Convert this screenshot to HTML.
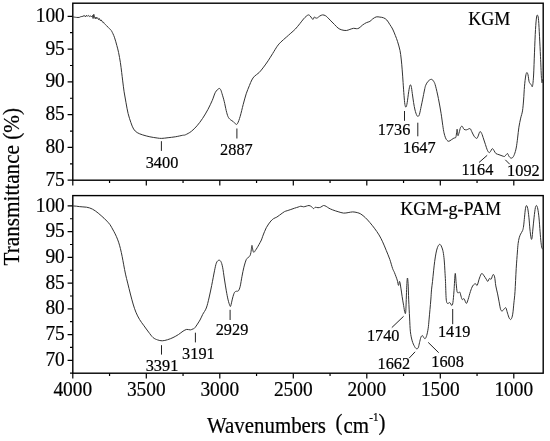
<!DOCTYPE html><html><head><meta charset="utf-8"><style>html,body{margin:0;padding:0;background:#fff;overflow:hidden;width:550px;height:441px;}svg{display:block;will-change:transform;}text{font-family:"Liberation Serif",serif;fill:#000;stroke:#000;stroke-width:0.2px;}</style></head><body>
<svg width="550" height="441" viewBox="0 0 550 441">
<rect width="550" height="441" fill="#fff"/>
<rect x="72.80" y="3.20" width="470.40" height="177.00" fill="none" stroke="#000" stroke-width="1.40"/>
<rect x="72.80" y="195.60" width="470.40" height="177.60" fill="none" stroke="#000" stroke-width="1.40"/>
<path d="M72.80,180.20v5.20M72.80,373.20v5.20M109.55,180.20v2.80M109.55,373.20v2.80M146.30,180.20v5.20M146.30,373.20v5.20M183.05,180.20v2.80M183.05,373.20v2.80M219.80,180.20v5.20M219.80,373.20v5.20M256.55,180.20v2.80M256.55,373.20v2.80M293.30,180.20v5.20M293.30,373.20v5.20M330.05,180.20v2.80M330.05,373.20v2.80M366.80,180.20v5.20M366.80,373.20v5.20M403.55,180.20v2.80M403.55,373.20v2.80M440.30,180.20v5.20M440.30,373.20v5.20M477.05,180.20v2.80M477.05,373.20v2.80M513.80,180.20v5.20M513.80,373.20v5.20M72.80,180.20h-5.20M72.80,163.81h-2.80M72.80,147.42h-5.20M72.80,131.03h-2.80M72.80,114.64h-5.20M72.80,98.26h-2.80M72.80,81.87h-5.20M72.80,65.48h-2.80M72.80,49.09h-5.20M72.80,32.70h-2.80M72.80,16.31h-5.20M72.80,373.20h-2.80M72.80,360.33h-5.20M72.80,347.46h-2.80M72.80,334.59h-5.20M72.80,321.72h-2.80M72.80,308.85h-5.20M72.80,295.98h-2.80M72.80,283.11h-5.20M72.80,270.24h-2.80M72.80,257.37h-5.20M72.80,244.50h-2.80M72.80,231.63h-5.20M72.80,218.77h-2.80M72.80,205.90h-5.20" stroke="#000" stroke-width="1.2" fill="none"/>
<path d="M72.70,16.80 C73.32,16.90 75.30,17.30 76.40,17.40 C77.50,17.50 78.58,17.52 79.30,17.40 C80.02,17.28 80.10,16.88 80.70,16.70 C81.30,16.52 82.28,16.50 82.90,16.30 L84.40,15.50 L85.50,17.00 L86.50,15.20 L87.60,16.30 L88.70,15.50 L89.80,16.60 L90.80,15.90 L91.60,16.60 L92.50,15.50 L93.10,18.50 L93.80,14.30 L94.50,17.40 L95.30,18.80 L96.00,17.00 L96.70,18.50 L97.50,17.70 L98.50,19.60 L99.30,18.50 L100.40,20.70 L101.10,19.90 L102.00,21.10 L102.90,22.50 L103.60,22.30 L104.40,23.60 C104.88,24.17 105.83,25.05 106.50,25.70 C107.17,26.35 107.73,26.83 108.40,27.50 C109.07,28.17 109.95,29.08 110.50,29.70 C111.05,30.32 111.05,29.95 111.70,31.20 C112.35,32.45 113.55,34.83 114.40,37.20 C115.25,39.57 116.10,42.83 116.80,45.40 C117.50,47.97 118.00,49.73 118.60,52.60 C119.20,55.47 119.88,59.27 120.40,62.60 C120.92,65.93 121.32,69.55 121.70,72.60 C122.08,75.65 122.30,77.70 122.70,80.90 C123.10,84.10 123.55,88.17 124.10,91.80 C124.65,95.43 125.33,99.08 126.00,102.70 C126.67,106.32 127.28,110.18 128.10,113.50 C128.92,116.82 129.98,120.02 130.90,122.60 C131.82,125.18 132.55,127.33 133.60,129.00 C134.65,130.67 135.68,131.62 137.20,132.60 C138.72,133.58 140.58,134.20 142.70,134.90 C144.82,135.60 147.48,136.28 149.90,136.80 C152.32,137.32 155.23,137.73 157.20,138.00 C159.17,138.27 159.88,138.45 161.70,138.40 C163.52,138.35 165.83,137.97 168.10,137.70 C170.37,137.43 172.88,137.20 175.30,136.80 C177.72,136.40 180.92,135.63 182.60,135.30 C184.28,134.97 183.95,135.45 185.40,134.80 C186.85,134.15 189.37,132.90 191.30,131.40 C193.23,129.90 195.12,127.97 197.00,125.80 C198.88,123.63 200.77,121.15 202.60,118.40 C204.43,115.65 206.38,112.32 208.00,109.30 C209.62,106.28 211.07,103.13 212.30,100.30 C213.53,97.47 214.30,94.25 215.40,92.30 C216.50,90.35 218.03,89.05 218.90,88.60 C219.77,88.15 220.08,88.77 220.60,89.60 C221.12,90.43 221.40,91.65 222.00,93.60 C222.60,95.55 223.50,98.48 224.20,101.30 C224.90,104.12 225.57,107.95 226.20,110.50 C226.83,113.05 227.32,115.08 228.00,116.60 C228.68,118.12 229.40,118.75 230.30,119.60 C231.20,120.45 232.47,120.93 233.40,121.70 C234.33,122.47 235.20,123.92 235.90,124.20 C236.60,124.48 236.88,124.72 237.60,123.40 C238.32,122.08 239.27,119.45 240.20,116.30 C241.13,113.15 242.20,108.25 243.20,104.50 C244.20,100.75 245.17,96.95 246.20,93.80 C247.23,90.65 248.47,87.90 249.40,85.60 C250.33,83.30 250.95,81.57 251.80,80.00 C252.65,78.43 253.28,77.43 254.50,76.20 C255.72,74.97 257.58,74.12 259.10,72.60 C260.62,71.08 262.10,69.07 263.60,67.10 C265.10,65.13 266.58,63.07 268.10,60.80 C269.62,58.53 271.18,55.92 272.70,53.50 C274.22,51.08 275.85,48.20 277.20,46.30 C278.55,44.40 279.28,43.62 280.80,42.10 C282.32,40.58 284.63,38.68 286.30,37.20 C287.97,35.72 289.28,34.57 290.80,33.20 C292.32,31.83 293.88,30.60 295.40,29.00 C296.92,27.40 298.55,25.27 299.90,23.60 C301.25,21.93 302.45,20.22 303.50,19.00 C304.55,17.78 305.38,16.98 306.20,16.30 C307.02,15.62 307.73,14.95 308.40,14.90 C309.07,14.85 309.65,15.47 310.20,16.00 C310.75,16.53 311.22,17.53 311.70,18.10 C312.18,18.67 312.65,19.60 313.10,19.40 C313.55,19.20 313.97,17.12 314.40,16.90 C314.83,16.68 315.18,17.95 315.70,18.10 C316.22,18.25 316.82,18.15 317.50,17.80 C318.18,17.45 318.95,16.48 319.80,16.00 C320.65,15.52 321.68,14.97 322.60,14.90 C323.52,14.83 324.52,15.22 325.30,15.60 C326.08,15.98 326.37,16.32 327.30,17.20 C328.23,18.08 329.70,19.68 330.90,20.90 C332.10,22.12 333.30,23.30 334.50,24.50 C335.70,25.70 336.88,27.20 338.10,28.10 C339.32,29.00 340.43,29.50 341.80,29.90 C343.17,30.30 344.95,30.58 346.30,30.50 C347.65,30.42 348.68,29.77 349.90,29.40 C351.12,29.03 352.53,28.42 353.60,28.30 C354.67,28.18 355.40,28.73 356.30,28.70 C357.20,28.67 357.95,28.72 359.00,28.10 C360.05,27.48 361.38,25.90 362.60,25.00 C363.82,24.10 365.08,23.30 366.30,22.70 C367.52,22.10 368.85,22.02 369.90,21.40 C370.95,20.78 371.55,19.75 372.60,19.00 C373.65,18.25 374.98,17.22 376.20,16.90 C377.42,16.58 378.68,16.95 379.90,17.10 C381.12,17.25 382.35,17.32 383.50,17.80 C384.65,18.28 385.75,18.88 386.80,20.00 C387.85,21.12 388.83,23.00 389.80,24.50 C390.77,26.00 391.68,27.18 392.60,29.00 C393.52,30.82 394.47,33.28 395.30,35.40 C396.13,37.52 396.82,39.18 397.60,41.70 C398.38,44.22 399.40,47.62 400.00,50.50 C400.60,53.38 400.83,55.77 401.20,59.00 C401.57,62.23 401.88,65.97 402.20,69.90 C402.52,73.83 402.80,78.37 403.10,82.60 C403.40,86.83 403.70,91.67 404.00,95.30 C404.30,98.93 404.57,102.43 404.90,104.40 C405.23,106.37 405.62,107.40 406.00,107.10 C406.38,106.80 406.75,105.17 407.20,102.60 C407.65,100.03 408.23,94.58 408.70,91.70 C409.17,88.82 409.58,86.22 410.00,85.30 C410.42,84.38 410.82,84.83 411.20,86.20 C411.58,87.57 411.90,90.77 412.30,93.50 C412.70,96.23 413.15,99.85 413.60,102.60 C414.05,105.35 414.47,107.87 415.00,110.00 C415.53,112.13 416.28,114.35 416.80,115.40 C417.32,116.45 417.67,116.45 418.10,116.30 C418.53,116.15 418.88,116.17 419.40,114.50 C419.92,112.83 420.65,108.87 421.20,106.30 C421.75,103.73 422.15,101.82 422.70,99.10 C423.25,96.38 424.00,92.30 424.50,90.00 C425.00,87.70 425.10,86.75 425.70,85.30 C426.30,83.85 427.15,82.30 428.10,81.30 C429.05,80.30 430.43,79.23 431.40,79.30 C432.37,79.37 433.20,80.55 433.90,81.70 C434.60,82.85 434.85,83.40 435.60,86.20 C436.35,89.00 437.48,93.95 438.40,98.50 C439.32,103.05 440.37,108.98 441.10,113.50 C441.83,118.02 442.32,122.38 442.80,125.60 C443.28,128.82 443.55,130.77 444.00,132.80 C444.45,134.83 445.00,136.55 445.50,137.80 C446.00,139.05 446.45,139.72 447.00,140.30 C447.55,140.88 448.08,141.38 448.80,141.30 C449.52,141.22 450.45,140.33 451.30,139.80 C452.15,139.27 453.13,138.55 453.90,138.10 C454.67,137.65 455.37,138.58 455.90,137.10 C456.43,135.62 456.77,129.45 457.10,129.20 C457.43,128.95 457.58,134.97 457.90,135.60 C458.22,136.23 458.55,134.37 459.00,133.00 C459.45,131.63 460.05,128.50 460.60,127.40 C461.15,126.30 461.73,126.08 462.30,126.40 C462.87,126.72 463.28,128.73 464.00,129.30 C464.72,129.87 465.60,129.92 466.60,129.80 C467.60,129.68 469.13,128.28 470.00,128.60 C470.87,128.92 471.12,130.43 471.80,131.70 C472.48,132.97 473.28,135.08 474.10,136.20 C474.92,137.32 476.03,138.40 476.70,138.40 C477.37,138.40 477.57,137.32 478.10,136.20 C478.63,135.08 479.30,132.15 479.90,131.70 C480.50,131.25 481.08,132.28 481.70,133.50 C482.32,134.72 482.98,137.18 483.60,139.00 C484.22,140.82 484.80,142.60 485.40,144.40 C486.00,146.20 486.60,148.43 487.20,149.80 C487.80,151.17 488.47,152.30 489.00,152.60 C489.53,152.90 489.85,152.27 490.40,151.60 C490.95,150.93 491.68,148.75 492.30,148.60 C492.92,148.45 493.50,149.88 494.10,150.70 C494.70,151.52 495.08,152.83 495.90,153.50 C496.72,154.17 497.98,154.32 499.00,154.70 C500.02,155.08 501.10,155.50 502.00,155.80 C502.90,156.10 503.78,156.58 504.40,156.50 C505.02,156.42 505.18,155.80 505.70,155.30 C506.22,154.80 506.97,153.35 507.50,153.50 C508.03,153.65 508.37,155.45 508.90,156.20 C509.43,156.95 510.08,157.77 510.70,158.00 C511.32,158.23 511.98,158.20 512.60,157.60 C513.22,157.00 513.80,156.00 514.40,154.40 C515.00,152.80 515.67,150.72 516.20,148.00 C516.73,145.28 517.15,141.57 517.60,138.10 C518.05,134.63 518.38,130.53 518.90,127.20 C519.42,123.87 520.10,120.82 520.70,118.10 C521.30,115.38 522.02,113.92 522.50,110.90 C522.98,107.88 523.27,104.12 523.60,100.00 C523.93,95.88 524.15,90.20 524.50,86.20 C524.85,82.20 525.32,78.27 525.70,76.00 C526.08,73.73 526.42,72.80 526.80,72.60 C527.18,72.40 527.62,73.30 528.00,74.80 C528.38,76.30 528.68,80.08 529.10,81.60 C529.52,83.12 530.12,83.33 530.50,83.90 C530.88,84.47 531.07,84.62 531.40,85.00 C531.73,85.38 532.13,87.87 532.50,86.20 C532.87,84.53 533.27,80.67 533.60,75.00 C533.93,69.33 534.18,59.78 534.50,52.20 C534.82,44.62 535.15,35.37 535.50,29.50 C535.85,23.63 536.23,19.35 536.60,17.00 C536.97,14.65 537.37,14.83 537.70,15.40 C538.03,15.97 538.30,16.92 538.60,20.40 C538.90,23.88 539.18,30.25 539.50,36.30 C539.82,42.35 540.18,49.90 540.50,56.70 C540.82,63.50 541.15,72.75 541.40,77.10 C541.65,81.45 541.78,82.42 542.00,82.80 C542.22,83.18 542.48,80.03 542.70,79.40 C542.92,78.77 543.20,79.07 543.30,79.00" stroke="#333" stroke-width="1.0" fill="none" stroke-linejoin="round"/>
<path d="M72.70,206.00 C72.88,206.00 73.18,205.97 73.80,206.00 C74.42,206.03 75.48,206.10 76.40,206.20 C77.32,206.30 78.22,206.48 79.30,206.60 C80.38,206.72 81.70,206.80 82.90,206.90 C84.10,207.00 85.40,207.03 86.50,207.20 C87.60,207.37 88.52,207.58 89.50,207.90 C90.48,208.22 91.43,208.60 92.40,209.10 C93.37,209.60 94.33,210.23 95.30,210.90 C96.27,211.57 97.23,212.32 98.20,213.10 C99.17,213.88 100.13,214.75 101.10,215.60 C102.07,216.45 103.03,217.28 104.00,218.20 C104.97,219.12 105.93,220.07 106.90,221.10 C107.87,222.13 108.98,223.30 109.80,224.40 C110.62,225.50 111.10,226.48 111.80,227.70 C112.50,228.92 113.25,230.27 114.00,231.70 C114.75,233.13 115.53,234.55 116.30,236.30 C117.07,238.05 117.92,240.17 118.60,242.20 C119.28,244.23 119.80,246.08 120.40,248.50 C121.00,250.92 121.65,253.98 122.20,256.70 C122.75,259.42 123.15,261.90 123.70,264.80 C124.25,267.70 124.83,271.05 125.50,274.10 C126.17,277.15 126.88,279.78 127.70,283.10 C128.52,286.42 129.50,290.52 130.40,294.00 C131.30,297.48 132.18,300.97 133.10,304.00 C134.02,307.03 134.83,309.63 135.90,312.20 C136.97,314.77 138.15,317.13 139.50,319.40 C140.85,321.67 142.48,323.68 144.00,325.80 C145.52,327.92 147.08,330.13 148.60,332.10 C150.12,334.07 151.60,336.30 153.10,337.60 C154.60,338.90 156.08,339.37 157.60,339.90 C159.12,340.43 160.53,340.83 162.20,340.80 C163.87,340.77 165.80,340.23 167.60,339.70 C169.40,339.17 171.18,338.47 173.00,337.60 C174.82,336.73 176.83,335.57 178.50,334.50 C180.17,333.43 181.63,332.05 183.00,331.20 C184.37,330.35 185.48,329.62 186.70,329.40 C187.92,329.18 189.25,329.98 190.30,329.90 C191.35,329.82 192.22,329.28 193.00,328.90 C193.78,328.52 193.83,329.08 195.00,327.60 C196.17,326.12 198.72,322.20 200.00,320.00 C201.28,317.80 201.65,316.40 202.70,314.40 C203.75,312.40 205.25,310.73 206.30,308.00 C207.35,305.27 208.10,301.77 209.00,298.00 C209.90,294.23 210.78,289.93 211.70,285.40 C212.62,280.87 213.73,274.50 214.50,270.80 C215.27,267.10 215.63,264.95 216.30,263.20 C216.97,261.45 217.75,260.60 218.50,260.30 C219.25,260.00 220.12,260.25 220.80,261.40 C221.48,262.55 222.00,264.27 222.60,267.20 C223.20,270.13 223.78,275.07 224.40,279.00 C225.02,282.93 225.68,287.32 226.30,290.80 C226.92,294.28 227.50,297.42 228.10,299.90 C228.70,302.38 229.45,304.73 229.90,305.70 C230.35,306.67 230.35,306.98 230.80,305.70 C231.25,304.42 232.00,300.18 232.60,298.00 C233.20,295.82 233.80,293.72 234.40,292.60 C235.00,291.48 235.53,291.60 236.20,291.30 C236.87,291.00 237.73,291.63 238.40,290.80 C239.07,289.97 239.60,288.72 240.20,286.30 C240.80,283.88 241.38,279.48 242.00,276.30 C242.62,273.12 243.18,270.00 243.90,267.20 C244.62,264.40 245.58,261.10 246.30,259.50 C247.02,257.90 247.58,258.25 248.20,257.60 C248.82,256.95 249.55,256.45 250.00,255.60 C250.45,254.75 250.63,253.90 250.90,252.50 C251.17,251.10 251.42,248.38 251.60,247.20 C251.78,246.02 251.85,245.25 252.00,245.40 C252.15,245.55 252.30,247.08 252.50,248.10 C252.70,249.12 252.93,250.82 253.20,251.50 C253.47,252.18 253.73,252.38 254.10,252.20 C254.47,252.02 254.88,251.15 255.40,250.40 C255.92,249.65 256.60,248.68 257.20,247.70 C257.80,246.72 258.30,245.78 259.00,244.50 C259.70,243.22 260.78,241.37 261.40,240.00 C262.02,238.63 262.18,237.68 262.70,236.30 C263.22,234.92 263.90,233.13 264.50,231.70 C265.10,230.27 265.62,228.98 266.30,227.70 C266.98,226.42 267.83,225.12 268.60,224.00 C269.37,222.88 270.07,221.90 270.90,221.00 C271.73,220.10 272.62,219.25 273.60,218.60 C274.58,217.95 275.82,217.67 276.80,217.10 C277.78,216.53 278.60,215.85 279.50,215.20 C280.40,214.55 281.37,213.80 282.20,213.20 C283.03,212.60 283.67,212.02 284.50,211.60 C285.33,211.18 286.15,211.05 287.20,210.70 C288.25,210.35 289.58,209.92 290.80,209.50 C292.02,209.08 293.28,208.60 294.50,208.20 C295.72,207.80 297.05,207.43 298.10,207.10 C299.15,206.77 299.90,206.25 300.80,206.20 C301.70,206.15 302.60,206.80 303.50,206.80 C304.40,206.80 305.28,206.42 306.20,206.20 C307.12,205.98 308.08,205.40 309.00,205.50 C309.92,205.60 310.95,206.28 311.70,206.80 C312.45,207.32 312.90,208.52 313.50,208.60 C314.10,208.68 314.55,207.45 315.30,207.30 C316.05,207.15 317.10,207.72 318.00,207.70 C318.90,207.68 319.78,207.57 320.70,207.20 C321.62,206.83 322.58,205.63 323.50,205.50 C324.42,205.37 325.30,205.95 326.20,206.40 C327.10,206.85 327.82,207.62 328.90,208.20 C329.98,208.78 331.17,209.32 332.70,209.90 C334.23,210.48 336.28,211.17 338.10,211.70 C339.92,212.23 341.93,212.95 343.60,213.10 C345.27,213.25 346.58,212.80 348.10,212.60 C349.62,212.40 351.18,211.90 352.70,211.90 C354.22,211.90 355.85,212.25 357.20,212.60 C358.55,212.95 359.43,213.15 360.80,214.00 C362.17,214.85 363.88,216.27 365.40,217.70 C366.92,219.13 368.40,220.85 369.90,222.60 C371.40,224.35 372.88,226.15 374.40,228.20 C375.92,230.25 377.63,232.63 379.00,234.90 C380.37,237.17 381.40,239.23 382.60,241.80 C383.80,244.37 385.00,247.37 386.20,250.30 C387.40,253.23 388.73,256.37 389.80,259.40 C390.87,262.43 391.82,266.28 392.60,268.50 C393.38,270.72 393.73,270.78 394.50,272.70 C395.27,274.62 396.53,277.88 397.20,280.00 C397.87,282.12 398.10,285.17 398.50,285.40 C398.90,285.63 399.20,280.95 399.60,281.40 C400.00,281.85 400.48,285.62 400.90,288.10 C401.32,290.58 401.65,293.42 402.10,296.30 C402.55,299.18 403.13,302.68 403.60,305.40 C404.07,308.12 404.53,311.70 404.90,312.60 C405.27,313.50 405.50,315.03 405.80,310.80 C406.10,306.57 406.43,292.65 406.70,287.20 C406.97,281.75 407.17,278.70 407.40,278.10 C407.63,277.50 407.88,279.97 408.10,283.60 C408.32,287.23 408.45,294.17 408.70,299.90 C408.95,305.63 409.32,312.68 409.60,318.00 C409.88,323.32 409.97,327.98 410.40,331.80 C410.83,335.62 411.52,338.47 412.20,340.90 C412.88,343.33 413.80,345.10 414.50,346.40 C415.20,347.70 415.78,348.47 416.40,348.70 C417.02,348.93 417.68,348.80 418.20,347.80 C418.72,346.80 419.05,344.45 419.50,342.70 C419.95,340.95 420.42,338.50 420.90,337.30 C421.38,336.10 421.95,335.50 422.40,335.50 C422.85,335.50 423.15,336.77 423.60,337.30 C424.05,337.83 424.58,339.00 425.10,338.70 C425.62,338.40 426.18,337.25 426.70,335.50 C427.22,333.75 427.80,330.93 428.20,328.20 C428.60,325.47 428.67,323.80 429.10,319.10 C429.53,314.40 430.40,304.87 430.80,300.00 C431.20,295.13 431.22,292.97 431.50,289.90 C431.78,286.83 432.15,284.78 432.50,281.60 C432.85,278.42 433.23,274.18 433.60,270.80 C433.97,267.42 434.30,264.25 434.70,261.30 C435.10,258.35 435.55,255.37 436.00,253.10 C436.45,250.83 436.90,249.10 437.40,247.70 C437.90,246.30 438.50,245.20 439.00,244.70 C439.50,244.20 439.95,244.32 440.40,244.70 C440.85,245.08 441.25,245.83 441.70,247.00 C442.15,248.17 442.68,249.55 443.10,251.70 C443.52,253.85 443.90,256.72 444.20,259.90 C444.50,263.08 444.68,267.18 444.90,270.80 C445.12,274.42 445.28,276.90 445.50,281.60 C445.72,286.30 445.87,295.35 446.20,299.00 C446.53,302.65 446.90,302.90 447.50,303.50 C448.10,304.10 449.10,302.28 449.80,302.60 C450.50,302.92 451.18,305.40 451.70,305.40 C452.22,305.40 452.52,305.03 452.90,302.60 C453.28,300.17 453.62,295.65 454.00,290.80 C454.38,285.95 454.83,274.70 455.20,273.50 C455.57,272.30 455.88,280.57 456.20,283.60 C456.52,286.63 456.73,290.18 457.10,291.70 C457.47,293.22 457.92,292.60 458.40,292.70 C458.88,292.80 459.62,291.92 460.00,292.30 C460.38,292.68 460.33,293.80 460.70,295.00 C461.07,296.20 461.63,298.87 462.20,299.50 C462.77,300.13 463.42,298.15 464.10,298.80 C464.78,299.45 465.63,303.28 466.30,303.40 C466.97,303.52 467.42,301.47 468.10,299.50 C468.78,297.53 469.63,293.87 470.40,291.60 C471.17,289.33 471.87,287.22 472.70,285.90 C473.53,284.58 474.65,283.80 475.40,283.70 C476.15,283.60 476.52,286.25 477.20,285.30 C477.88,284.35 478.75,279.97 479.50,278.00 C480.25,276.03 480.95,273.87 481.70,273.50 C482.45,273.13 483.25,274.87 484.00,275.80 C484.75,276.73 485.57,278.17 486.20,279.10 C486.83,280.03 487.27,281.50 487.80,281.40 C488.33,281.30 488.83,278.88 489.40,278.50 C489.97,278.12 490.60,279.75 491.20,279.10 C491.80,278.45 492.43,274.97 493.00,274.60 C493.57,274.23 494.13,275.02 494.60,276.90 C495.07,278.78 495.30,283.07 495.80,285.90 C496.30,288.73 497.05,291.25 497.60,293.90 C498.15,296.55 498.58,299.17 499.10,301.80 C499.62,304.43 500.13,308.20 500.70,309.70 C501.27,311.20 501.88,310.98 502.50,310.80 C503.12,310.62 503.83,309.08 504.40,308.60 C504.97,308.12 505.38,307.15 505.90,307.90 C506.42,308.65 506.93,311.37 507.50,313.10 C508.07,314.83 508.70,317.28 509.30,318.30 C509.90,319.32 510.53,319.88 511.10,319.20 C511.67,318.52 512.23,316.92 512.70,314.20 C513.17,311.48 513.52,306.67 513.90,302.90 C514.28,299.13 514.62,297.30 515.00,291.60 C515.38,285.90 515.80,275.30 516.20,268.70 C516.60,262.10 517.08,256.17 517.40,252.00 C517.72,247.83 517.80,246.07 518.10,243.70 C518.40,241.33 518.78,239.40 519.20,237.80 C519.62,236.20 520.03,235.32 520.60,234.10 C521.17,232.88 522.10,231.85 522.60,230.50 C523.10,229.15 523.28,228.22 523.60,226.00 C523.92,223.78 524.18,220.15 524.50,217.20 C524.82,214.25 525.17,210.23 525.50,208.30 C525.83,206.37 526.13,205.60 526.50,205.60 C526.87,205.60 527.30,206.37 527.70,208.30 C528.10,210.23 528.53,213.75 528.90,217.20 C529.27,220.65 529.55,225.57 529.90,229.00 C530.25,232.43 530.67,236.20 531.00,237.80 C531.33,239.40 531.58,240.07 531.90,238.60 C532.22,237.13 532.53,232.57 532.90,229.00 C533.27,225.43 533.68,220.77 534.10,217.20 C534.52,213.63 534.98,209.53 535.40,207.60 C535.82,205.67 536.20,205.37 536.60,205.60 C537.00,205.83 537.40,206.95 537.80,209.00 C538.20,211.05 538.62,214.08 539.00,217.90 C539.38,221.72 539.77,227.83 540.10,231.90 C540.43,235.97 540.70,239.63 541.00,242.30 C541.30,244.97 541.60,246.80 541.90,247.90 C542.20,249.00 542.57,248.80 542.80,248.90 C543.03,249.00 543.22,248.57 543.30,248.50" stroke="#333" stroke-width="1.0" fill="none" stroke-linejoin="round"/>
<path d="M161.4,141.2L161.4,150.9M236.9,128.5L236.9,138.5M404.5,111.0L404.5,120.8M417.8,122.7L417.8,136.3M479.0,162.5L487.2,155.3M505.3,159.8L509.8,164.3M161.5,345.2L161.5,354.6M195.4,332.7L195.4,342.4M230.1,309.8L230.1,320.0M391.8,327.6L403.6,316.3M409.1,358.2L415.1,351.8M428.2,342.4L438.7,352.7M452.7,309.0L452.7,324.2" stroke="#222" stroke-width="1.0" fill="none"/>
<text id="yt75" transform="translate(64.80,185.80) scale(1.000,1.040)" font-size="19.40" text-anchor="end">75</text>
<text id="yt80" transform="translate(64.80,153.02) scale(1.000,1.040)" font-size="19.40" text-anchor="end">80</text>
<text id="yt85" transform="translate(64.80,120.24) scale(1.000,1.040)" font-size="19.40" text-anchor="end">85</text>
<text id="yt90" transform="translate(64.80,87.47) scale(1.000,1.040)" font-size="19.40" text-anchor="end">90</text>
<text id="yt95" transform="translate(64.80,54.69) scale(1.000,1.040)" font-size="19.40" text-anchor="end">95</text>
<text id="yt100" transform="translate(64.80,21.91) scale(1.000,1.040)" font-size="19.40" text-anchor="end">100</text>
<text id="yb70" transform="translate(64.80,365.93) scale(1.000,1.040)" font-size="19.40" text-anchor="end">70</text>
<text id="yb75" transform="translate(64.80,340.19) scale(1.000,1.040)" font-size="19.40" text-anchor="end">75</text>
<text id="yb80" transform="translate(64.80,314.45) scale(1.000,1.040)" font-size="19.40" text-anchor="end">80</text>
<text id="yb85" transform="translate(64.80,288.71) scale(1.000,1.040)" font-size="19.40" text-anchor="end">85</text>
<text id="yb90" transform="translate(64.80,262.97) scale(1.000,1.040)" font-size="19.40" text-anchor="end">90</text>
<text id="yb95" transform="translate(64.80,237.23) scale(1.000,1.040)" font-size="19.40" text-anchor="end">95</text>
<text id="yb100" transform="translate(64.80,211.50) scale(1.000,1.040)" font-size="19.40" text-anchor="end">100</text>
<text id="x4000" transform="translate(72.80,396.30) scale(1.000,1.040)" font-size="19.40" text-anchor="middle">4000</text>
<text id="x3500" transform="translate(146.30,396.30) scale(1.000,1.040)" font-size="19.40" text-anchor="middle">3500</text>
<text id="x3000" transform="translate(219.80,396.30) scale(1.000,1.040)" font-size="19.40" text-anchor="middle">3000</text>
<text id="x2500" transform="translate(293.30,396.30) scale(1.000,1.040)" font-size="19.40" text-anchor="middle">2500</text>
<text id="x2000" transform="translate(366.80,396.30) scale(1.000,1.040)" font-size="19.40" text-anchor="middle">2000</text>
<text id="x1500" transform="translate(440.30,396.30) scale(1.000,1.040)" font-size="19.40" text-anchor="middle">1500</text>
<text id="x1000" transform="translate(513.80,396.30) scale(1.000,1.040)" font-size="19.40" text-anchor="middle">1000</text>
<text id="wav" transform="translate(207.00,432.80) scale(1.000,1.070)" font-size="20.90" text-anchor="start">Wavenumbers</text>
<text id="lp" transform="translate(335.60,429.80) scale(1.000,1.100)" font-size="20.90" text-anchor="start">(</text>
<text id="cm" transform="translate(343.60,432.80) scale(1.000,1.070)" font-size="20.90" text-anchor="start">cm</text>
<text id="sup" transform="translate(369.30,421.30) scale(1.000,1.100)" font-size="11.00" text-anchor="start">-1</text>
<text id="rp" transform="translate(378.60,429.80) scale(1.000,1.100)" font-size="20.90" text-anchor="start">)</text>
<text id="trans" transform="translate(19.00,265.40) rotate(-90) scale(1.000,1.060)" font-size="21.20" text-anchor="start">Transmittance (%)</text>
<text id="a3400" transform="translate(162.00,168.00) scale(0.970,1.030)" font-size="16.80" text-anchor="middle">3400</text>
<text id="a2887" transform="translate(236.40,154.90) scale(0.970,1.030)" font-size="16.80" text-anchor="middle">2887</text>
<text id="a1736" transform="translate(394.00,135.20) scale(0.970,1.030)" font-size="16.80" text-anchor="middle">1736</text>
<text id="a1647" transform="translate(419.30,152.60) scale(0.970,1.030)" font-size="16.80" text-anchor="middle">1647</text>
<text id="a1164" transform="translate(477.40,175.30) scale(0.970,1.030)" font-size="16.80" text-anchor="middle">1164</text>
<text id="a1092" transform="translate(523.40,175.80) scale(0.970,1.030)" font-size="16.80" text-anchor="middle">1092</text>
<text id="a3391" transform="translate(162.00,370.60) scale(0.970,1.030)" font-size="16.80" text-anchor="middle">3391</text>
<text id="a3191" transform="translate(198.40,358.60) scale(0.970,1.030)" font-size="16.80" text-anchor="middle">3191</text>
<text id="a2929" transform="translate(232.00,334.90) scale(0.970,1.030)" font-size="16.80" text-anchor="middle">2929</text>
<text id="a1740" transform="translate(383.20,340.90) scale(0.970,1.030)" font-size="16.80" text-anchor="middle">1740</text>
<text id="a1662" transform="translate(393.80,369.10) scale(0.970,1.030)" font-size="16.80" text-anchor="middle">1662</text>
<text id="a1608" transform="translate(447.60,366.80) scale(0.970,1.030)" font-size="16.80" text-anchor="middle">1608</text>
<text id="a1419" transform="translate(454.20,337.30) scale(0.970,1.030)" font-size="16.80" text-anchor="middle">1419</text>
<text id="kgm" transform="translate(468.20,24.70)" font-size="18.00" text-anchor="start">KGM</text>
<text id="kgmp" transform="translate(400.30,215.40)" font-size="18.10" text-anchor="start">KGM-g-PAM</text>
</svg></body></html>
